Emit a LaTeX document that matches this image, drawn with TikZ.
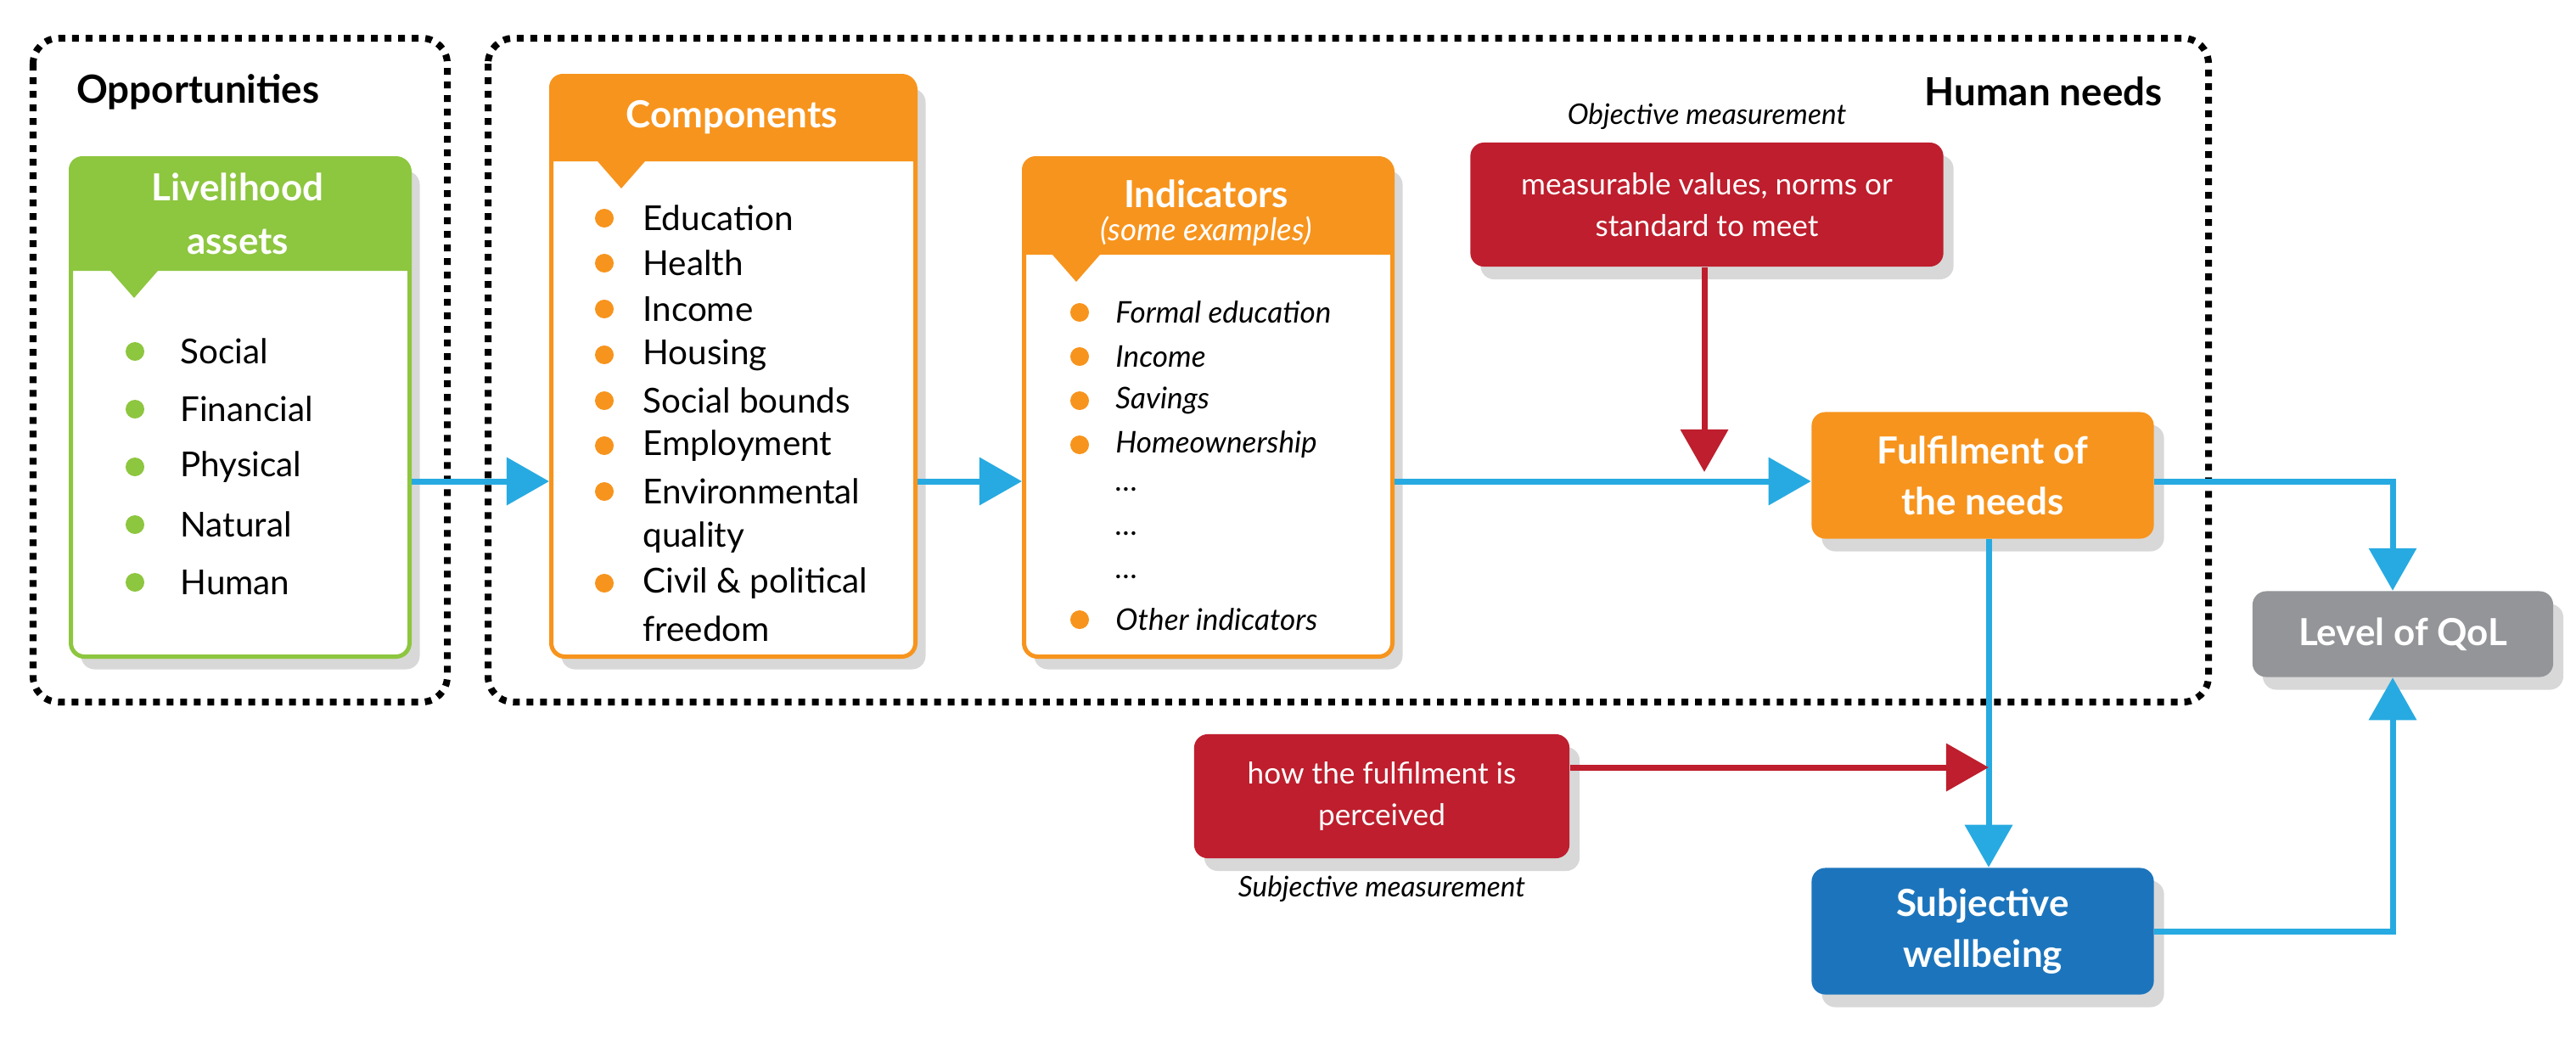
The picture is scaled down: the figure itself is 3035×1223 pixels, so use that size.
\documentclass[tikz,border=0pt]{standalone}
\usepackage{fontspec}
\setmainfont{Lato}
\usetikzlibrary{arrows.meta,shadows,positioning}
\definecolor{leaf}{HTML}{8DC63F}
\definecolor{tang}{HTML}{F7941D}
\definecolor{wine}{HTML}{BE1E2D}
\definecolor{sea}{HTML}{1C75BC}
\definecolor{ash}{HTML}{939598}
\definecolor{sky}{HTML}{27AAE1}

\tikzset{
  zone/.style={draw=black, line width=0.08cm, dash pattern=on 0.08cm off 0.08cm, rounded corners=0.3cm},
  card/.style={draw=#1, line width=0.05cm, fill=white, rounded corners=0.16cm, anchor=north west,
    drop shadow={opacity=0.3, shadow xshift=0.12cm, shadow yshift=-0.15cm}},
  block/.style={fill=#1, rounded corners=0.16cm, text=white, font=\fontsize{12.5}{17}\selectfont\bfseries,
    align=center, drop shadow={opacity=0.3, shadow xshift=0.12cm, shadow yshift=-0.15cm}},
  redbox/.style={fill=wine, rounded corners=0.16cm, text=white, font=\fontsize{10}{14}\selectfont,
    align=center, drop shadow={opacity=0.3, shadow xshift=0.12cm, shadow yshift=-0.15cm}},
  head/.style={text=white, font=\fontsize{12.5}{18}\selectfont\bfseries, align=center},
  item/.style={anchor=west, font=\fontsize{11.5}{14}\selectfont},
  flow/.style={draw=sky, line width=0.07cm, -{Triangle[length=0.5cm,width=0.55cm]}},
  push/.style={draw=wine, line width=0.07cm, -{Triangle[length=0.5cm,width=0.55cm]}},
}
% card: name, x1, y1, x2, y2, header bottom, colour, tooth x
\newcommand{\card}[8]{%
  \node[card=#7, minimum width={(#4-#2)*0.01cm}, minimum height={(#5-#3)*0.01cm}] (#1) at (#2,#3) {};
  \fill[#7] (#2,#6) {[rounded corners=0.16cm] -- (#2,#3) -- (#4,#3)} -- (#4,#6)
    -- (#8+28,#6) -- (#8,#6+32) -- (#8-28,#6) -- cycle;
}

\begin{document}
\begin{tikzpicture}[x=0.01cm, y=-0.01cm]
  \useasboundingbox[fill=white] (0,0) rectangle (3035,1223);

  % dashed zones
  \draw[zone] (39,45) rectangle (527,827);
  \draw[zone] (575,45) rectangle (2602,827);
  \node[anchor=west, font=\fontsize{13}{15}\selectfont\bfseries] (opp) at (78,108) {Opportunities};
  \node[anchor=east, font=\fontsize{13}{15}\selectfont\bfseries] (hum) at (2560,108) {Human needs};

  % livelihood assets
  \card{liv}{81}{184}{480}{771}{319}{leaf}{158}
  \node[head] (livh) at (280,252) {Livelihood\\assets};
  \foreach \t [count=\i] in {Social,Financial,Physical,Natural,Human} {
    \fill[leaf] (159,346+68*\i) circle (0.11cm);
    \node[item] (liv\i) at (200,346+68*\i) {\t};
  }

  % components
  \card{comp}{647}{87}{1076}{771}{190}{tang}{732}
  \node[head] (comph) at (862,138) {Components};
  \foreach \t/\yy [count=\i] in {Education/257,Health/310,Income/364,Housing/418,Social bounds/472,Employment/525,Environmental/579,Civil \& political/687} {
    \fill[tang] (712,\yy) circle (0.11cm);
    \node[item] (comp\i) at (745,\yy) {\t};
  }
  \node[item] (compq) at (745,633) {quality};
  \node[item] (compf) at (745,741) {freedom};

  % indicators
  \card{ind}{1204}{184}{1638}{771}{300}{tang}{1268}
  \node[head] (indh) at (1421,228) {Indicators};
  \node[text=white, font=\fontsize{10.5}{12}\selectfont\itshape] (inds) at (1421,272) {(some examples)};
  \foreach \t/\yy [count=\i] in {Formal education/368,Income/420,Savings/472,Homeownership/524,Other indicators/730} {
    \fill[tang] (1272,\yy) circle (0.11cm);
    \node[item, font=\fontsize{10}{12}\selectfont\itshape] (ind\i) at (1302,\yy) {\t};
  }
  \foreach \yy [count=\i] in {577,629,680}
    \node[item, font=\fontsize{10}{12}\selectfont\itshape] (dots\i) at (1302,\yy) {\dots};

  % measurement and outcome blocks
  \node[redbox, minimum width=5.57cm, minimum height=1.46cm] (obj) at (2011,241)
    {measurable values, norms or\\standard to meet};
  \node[font=\fontsize{9.5}{11}\selectfont\itshape, above=0.02cm of obj] (objl) {Objective measurement};
  \node[block=tang, minimum width=4.03cm, minimum height=1.49cm] (fulf) at (2336,560) {Fulfilment of\\the needs};
  \node[block=ash, minimum width=3.54cm, minimum height=1.01cm] (qol) at (2831,747) {Level of QoL};
  \node[redbox, minimum width=4.42cm, minimum height=1.46cm] (subj) at (1628,938)
    {how the fulfilment is\\perceived};
  \node[font=\fontsize{9.5}{11}\selectfont\itshape, below=0.08cm of subj] (subjl) {Subjective measurement};
  \node[block=sea, minimum width=4.03cm, minimum height=1.49cm] (well) at (2336,1097) {Subjective\\wellbeing};

  % connectors
  \coordinate (lane) at (0,567);
  \coordinate (tick) at (2008,556);
  \coordinate (bend) at (2819,0);
  \coordinate (tap) at (2343,904);
  \draw[flow] (liv.east |- lane) -- (comp.west |- lane);
  \draw[flow] (comp.east |- lane) -- (ind.west |- lane);
  \draw[flow] (ind.east |- lane) -- (fulf.west |- lane);
  \draw[push] (obj.south -| tick) -- (tick);
  \draw[flow] (fulf.east |- lane) -| (qol.north -| bend);
  \draw[flow] (fulf.south -| tap) -- (well.north -| tap);
  \draw[push] (subj.east |- tap) -- (tap);
  \draw[flow] (well.east) -| (qol.south -| bend);
\end{tikzpicture}
\end{document}
